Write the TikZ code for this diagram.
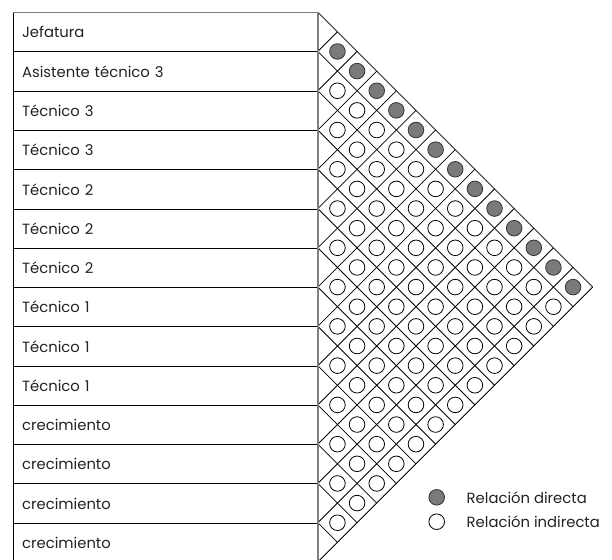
\documentclass[tikz,border=0pt]{standalone}
\usepackage{fontspec}
\setmainfont{Poppins}
\definecolor{framegray}{HTML}{7F7F7F}
\definecolor{dotgray}{HTML}{7A7A7A}
\definecolor{txt}{HTML}{222222}
\tikzset{
  rowbox/.style={draw=black, line width=0.9pt, anchor=north west,
    minimum width=304.8pt, minimum height=39.27pt, inner xsep=8.7pt,
    text width=287.4pt, align=left, font=\fontsize{14.8}{17}\selectfont, text=txt},
  gridline/.style={draw=black, line width=0.8pt},
  rel/.style={circle, draw=black, line width=0.8pt, minimum size=15.6pt, inner sep=0pt},
  reldir/.style={rel, fill=dotgray, draw=black!80},
  relind/.style={rel, fill=white},
  legtext/.style={anchor=west, inner sep=0pt, font=\fontsize{14.8}{17}\selectfont, text=txt}
}
\begin{document}
\begin{tikzpicture}[x=1pt,y=-1pt]
\useasboundingbox (0,0) rectangle (612,559);
\clip (0,0) rectangle (612,559);
\def\h{39.27}
\def\ty{12.2}
\def\gx{317.8}
\def\lx{13}
% rows
\foreach \lab [count=\i from 0] in {Jefatura,Asistente técnico 3,Técnico 3,Técnico 3,Técnico 2,Técnico 2,Técnico 2,Técnico 1,Técnico 1,Técnico 1,crecimiento,crecimiento,crecimiento,crecimiento}{
  \node[rowbox] (r\i) at (\lx,{\ty+\i*\h}) {\lab};
}
% grid diagonals
\foreach \k in {0,...,14}{
  \draw[gridline] (\gx,{\ty+\k*\h}) -- ++({(14-\k)*\h/2},{(14-\k)*\h/2});
  \draw[gridline] (\gx,{\ty+\k*\h}) -- ++({\k*\h/2},{-\k*\h/2});
}
% frame lines
\draw[framegray, line width=1.3pt] (\lx,\ty) -- (\gx,\ty);
\draw[framegray, line width=1.4pt] (\gx,\ty) -- (\gx,{\ty+14*\h});
% relation circles
\foreach \a in {0,...,12}{
  \pgfmathtruncatemacro{\bs}{\a+1}
  \foreach \b in {\bs,...,13}{
    \ifnum\a=0
      \node[reldir] (c\a-\b) at ({\gx+(\b-\a)*\h/2},{\ty+(\a+\b+1)*\h/2}) {};
    \else
      \node[relind] (c\a-\b) at ({\gx+(\b-\a)*\h/2},{\ty+(\a+\b+1)*\h/2}) {};
    \fi
  }
}
% legend
\node[reldir] (ld) at (436.7,497.3) {};
\node[legtext] (ldt) at (466.5,497.3) {Relación directa};
\node[relind] (li) at (436.7,521.7) {};
\node[legtext] (lit) at (466.5,521.7) {Relación indirecta};
\end{tikzpicture}
\end{document}
